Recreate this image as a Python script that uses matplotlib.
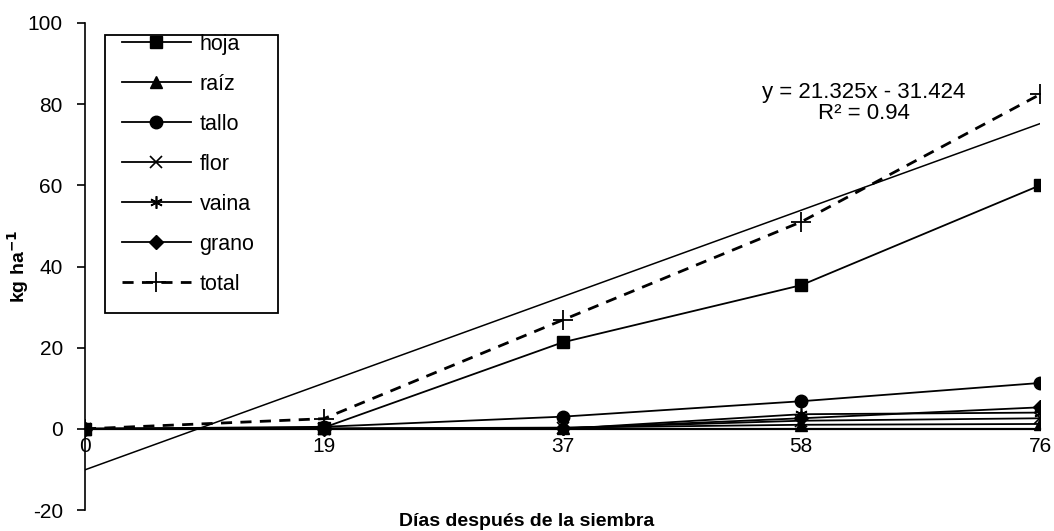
import numpy as np
import matplotlib
matplotlib.use("Agg")
import matplotlib.pyplot as plt
from matplotlib.patches import Rectangle

plt.rcParams['font.family'] = ['Liberation Sans', 'DejaVu Sans']
plt.rcParams['axes.unicode_minus'] = False

dias = ["0", "19", "37", "58", "76"]
hoja = [0.0, 0.3, 21.3, 35.4, 60.0]
raiz = [0.0, 0.1, 0.3, 1.0, 1.2]
tallo = [0.0, 0.5, 3.0, 6.8, 11.3]
flor = [0.0, 0.0, 0.2, 2.0, 2.6]
vaina = [0.0, 0.0, 0.0, 3.6, 4.0]
grano = [0.0, 0.0, 0.1, 2.6, 5.3]
total = [0.0, 2.5, 26.8, 51.0, 82.4]

slope, intercept = 21.325, -31.424

x = np.arange(1, len(dias) + 1)

W, H = 1054, 531
fig = plt.figure(figsize=(W / 100, H / 100), dpi=100)
ax = fig.add_axes([85 / W, 1 - 510 / H, (1040 - 85) / W, (510 - 23) / H])

ax.plot(x, hoja, color="k", lw=1.3, marker="s", ms=8.5, label="hoja")
ax.plot(x, raiz, color="k", lw=1.3, marker="^", ms=8.5, label="raíz")
ax.plot(x, tallo, color="k", lw=1.3, marker="o", ms=9, label="tallo")
ax.plot(x, flor, color="k", lw=1.3, marker="x", ms=8, mew=1.2, label="flor")
ax.plot(x, vaina, color="k", lw=1.3, marker=(6, 2, 0), ms=9, mew=1.2, label="vaina")
ax.plot(x, grano, color="k", lw=1.3, marker="D", ms=7, label="grano")
ax.plot(x, total, color="k", lw=2.0, ls=(0, (4, 3)), marker="+", ms=14,
        mew=1.3, label="total")

# linear trend of total
ax.plot(x, slope * x + intercept, color="k", lw=1.1)
ax.text(4.263, 80.3, "y = 21.325x - 31.424\nR² = 0.94", ha="center",
        va="center", fontsize=16, linespacing=1.0)

ax.set_xlim(1, 5)
ax.set_ylim(-20, 100)
ax.set_yticks(np.arange(-20, 101, 20))
ax.set_xticks(x)
ax.set_xticklabels(dias)
ax.spines['top'].set_visible(False)
ax.spines['right'].set_visible(False)
ax.spines['bottom'].set_position(('data', 0))
ax.spines['bottom'].set_linewidth(1.6)
ax.spines['left'].set_linewidth(1.2)
ax.tick_params(axis='x', length=0, pad=6, labelsize=15)
ax.tick_params(axis='y', length=6, width=1.2, pad=10, labelsize=15)
ax.patch.set_alpha(0)

leg = ax.legend(loc="upper left", bbox_to_anchor=(122 / W, 1 - 34 / H),
                bbox_transform=fig.transFigure, frameon=False, fontsize=15.5,
                handlelength=3.2, labelspacing=0.88, borderpad=0,
                handletextpad=0.4, borderaxespad=0)
fig.patches.append(Rectangle((105 / W, 1 - 313 / H), (278 - 105) / W,
                             (313 - 35) / H, transform=fig.transFigure,
                             fill=False, ec="k", lw=1.3))

fig.text(18 / W, 1 - 266 / H, "kg ha$^{\\mathbf{-1}}$", rotation=90,
         fontweight="bold", fontsize=14, ha="center", va="center")
fig.text(527 / W, 1 - 521 / H, "Días después de la siembra", fontweight="bold",
         fontsize=14, ha="center", va="center")

fig.savefig("out.png", dpi=100)
